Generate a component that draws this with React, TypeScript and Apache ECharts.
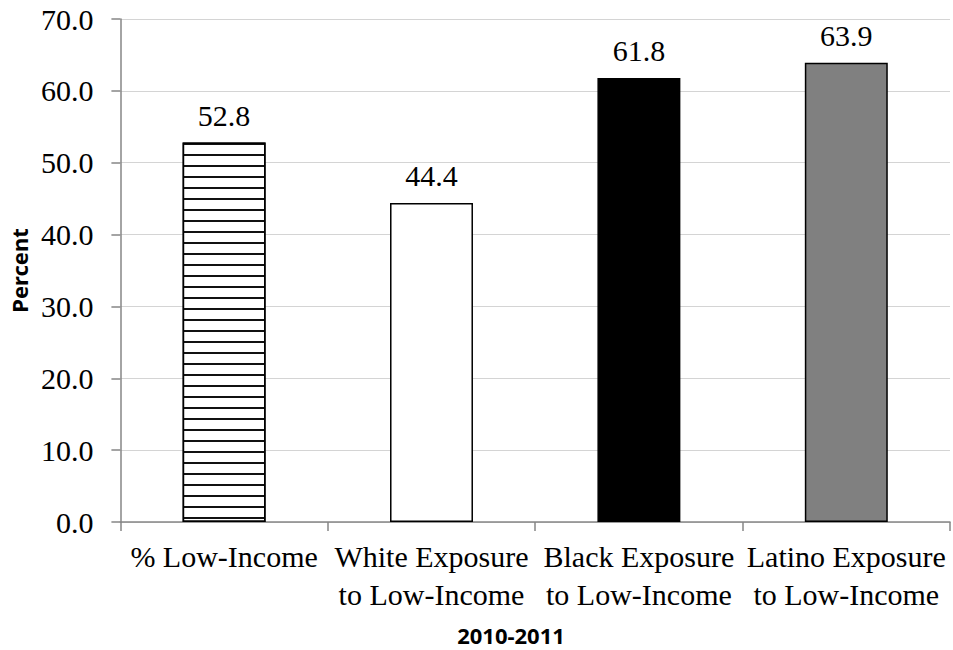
import React, { useEffect, useRef } from "react";
import * as echarts from "echarts";

// Category labels (two lines where the text wraps)
const categories: string[] = [
  "% Low-Income",
  "White Exposure\nto Low-Income",
  "Black Exposure\nto Low-Income",
  "Latino Exposure\nto Low-Income",
];

// Percent values, 2010-2011
const values: number[] = [52.8, 44.4, 61.8, 63.9];

// Fill per bar: striped, white, black, gray
const fills: string[] = ["#ffffff", "#ffffff", "#000000", "#808080"];
const striped: boolean[] = [true, false, false, false];

const yTicks = { min: 0, max: 70, interval: 10 };

const xTitle = "2010-2011";
const yTitle = "Percent";

const SERIF = "'Liberation Serif', 'Times New Roman', serif";
const SANS = "'Noto Sans', 'Open Sans', sans-serif";

export default function App() {
  const ref = useRef<HTMLDivElement>(null);

  useEffect(() => {
    if (!ref.current) return;
    const chart = echarts.init(ref.current, undefined, { renderer: "svg" });

    const data = values.map((v, i) => ({
      value: v,
      itemStyle: {
        color: fills[i],
        borderColor: "#000000",
        borderWidth: 1.5,
        decal: striped[i]
          ? {
              symbol: "rect",
              symbolSize: 1,
              color: "#111111",
              backgroundColor: "#ffffff",
              dashArrayX: [10, 0],
              dashArrayY: [2, 9],
              rotation: 0,
            }
          : undefined,
      },
    }));

    chart.setOption({
      animation: false,
      aria: { enabled: false, decal: { show: false } },
      grid: { left: 120, right: 3, top: 19, bottom: 128, containLabel: false },
      graphic: [
        {
          type: "text",
          x: 511,
          y: 635,
          style: {
            text: xTitle,
            fontFamily: SANS,
            fontWeight: "bold",
            fontSize: 22,
            fill: "#000",
            align: "center",
            verticalAlign: "middle",
            textAlign: "center",
            textVerticalAlign: "middle",
          },
        },
      ],
      xAxis: {
        type: "category",
        data: categories,
        axisLine: { lineStyle: { color: "#868686", width: 1.5 } },
        axisTick: {
          show: true,
          length: 9,
          alignWithLabel: false,
          lineStyle: { color: "#868686", width: 1.5 },
        },
        axisLabel: {
          interval: 0,
          margin: 15,
          fontFamily: SERIF,
          fontSize: 30,
          lineHeight: 38,
          color: "#000",
          align: "center",
        },
        splitLine: { show: false },
      },
      yAxis: {
        type: "value",
        min: yTicks.min,
        max: yTicks.max,
        interval: yTicks.interval,
        name: yTitle,
        nameLocation: "middle",
        nameGap: 86,
        nameRotate: 90,
        nameTextStyle: {
          fontFamily: SANS,
          fontWeight: "bold",
          fontSize: 22,
          lineHeight: 22,
          color: "#000",
        },
        axisLine: { show: true, lineStyle: { color: "#868686", width: 1.5 } },
        axisTick: {
          show: true,
          length: 9,
          lineStyle: { color: "#868686", width: 1.5 },
        },
        axisLabel: {
          margin: 27,
          fontFamily: SERIF,
          fontSize: 30,
          color: "#000",
          formatter: (v: number) => v.toFixed(1),
        },
        splitLine: { show: true, lineStyle: { color: "#d4d4d4", width: 1.2 } },
      },
      series: [
        {
          type: "bar",
          data,
          barWidth: "40%",
          label: {
            show: true,
            position: "top",
            distance: 12,
            fontFamily: SERIF,
            fontSize: 30,
            lineHeight: 30,
            color: "#000",
            formatter: (p: any) => Number(p.value).toFixed(1),
          },
        },
      ],
    });

    return () => chart.dispose();
  }, []);

  return <div ref={ref} style={{ width: 953, height: 650, position: "absolute", left: 0, top: 0 }} />;
}
